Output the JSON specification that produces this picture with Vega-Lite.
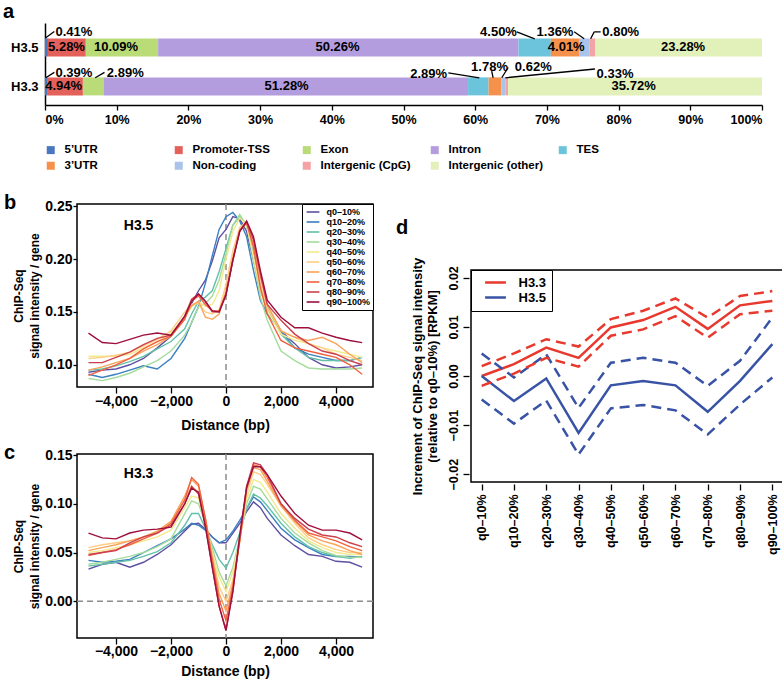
{
  "$schema": "https://vega.github.io/schema/vega-lite/v6.json",
  "background": "white",
  "padding": {"left": 2, "top": 2, "right": 0, "bottom": 0},
  "config": {
    "font": "Liberation Sans",
    "view": {"stroke": "black", "strokeWidth": 1.5},
    "axis": {"labelFont": "Liberation Sans", "labelFontWeight": "bold", "labelColor": "black", "titleFont": "Liberation Sans", "titleFontWeight": "bold", "titleColor": "black", "tickColor": "black", "domainColor": "black", "grid": false, "tickWidth": 1.3, "domainWidth": 1.5},
    "legend": {"labelFont": "Liberation Sans", "labelFontWeight": "bold", "labelColor": "black"},
    "title": {"font": "Liberation Sans", "fontWeight": "bold", "fontSize": 20, "color": "black", "anchor": "start", "frame": "group", "baseline": "alphabetic"}
  },
  "spacing": 20,
  "resolve": {"scale": {"color": "independent"}, "legend": {"color": "independent"}},
  "vconcat": [
    {
      "spacing": 0,
      "resolve": {"scale": {"color": "independent"}, "legend": {"color": "independent"}},
      "hconcat": [
        {"width": 1, "height": 1, "view": {"stroke": null}, "data": {"values": []}, "mark": "point"},
        {
          "width": 717, "height": 82,
          "view": {"stroke": null},
          "title": {"text": "a", "dx": -42, "offset": 1},
          "layer": [
            {
              "data": {"values": [
                {"sample": "H3.5", "yrow": 2, "cat": "5’UTR", "v": 0.41, "o": 1},
                {"sample": "H3.5", "yrow": 2, "cat": "Promoter-TSS", "v": 5.28, "o": 2},
                {"sample": "H3.5", "yrow": 2, "cat": "Exon", "v": 10.09, "o": 3},
                {"sample": "H3.5", "yrow": 2, "cat": "Intron", "v": 50.26, "o": 4},
                {"sample": "H3.5", "yrow": 2, "cat": "TES", "v": 4.50, "o": 5},
                {"sample": "H3.5", "yrow": 2, "cat": "3’UTR", "v": 4.01, "o": 6},
                {"sample": "H3.5", "yrow": 2, "cat": "Non-coding", "v": 1.36, "o": 7},
                {"sample": "H3.5", "yrow": 2, "cat": "Intergenic (CpG)", "v": 0.80, "o": 8},
                {"sample": "H3.5", "yrow": 2, "cat": "Intergenic (other)", "v": 23.28, "o": 9},
                {"sample": "H3.3", "yrow": 1, "cat": "5’UTR", "v": 0.39, "o": 1},
                {"sample": "H3.3", "yrow": 1, "cat": "Promoter-TSS", "v": 4.94, "o": 2},
                {"sample": "H3.3", "yrow": 1, "cat": "Exon", "v": 2.89, "o": 3},
                {"sample": "H3.3", "yrow": 1, "cat": "Intron", "v": 51.28, "o": 4},
                {"sample": "H3.3", "yrow": 1, "cat": "TES", "v": 2.89, "o": 5},
                {"sample": "H3.3", "yrow": 1, "cat": "3’UTR", "v": 1.78, "o": 6},
                {"sample": "H3.3", "yrow": 1, "cat": "Non-coding", "v": 0.62, "o": 7},
                {"sample": "H3.3", "yrow": 1, "cat": "Intergenic (CpG)", "v": 0.33, "o": 8},
                {"sample": "H3.3", "yrow": 1, "cat": "Intergenic (other)", "v": 35.72, "o": 9}
              ]},
              "mark": {"type": "bar", "orient": "horizontal", "size": 18},
              "encoding": {
                "y": {"field": "yrow", "type": "quantitative", "scale": {"domain": [0.65, 2.5], "nice": false, "zero": false},
                      "axis": {"values": [1, 2], "labelExpr": "datum.value == 2 ? 'H3.5' : 'H3.3'", "title": null, "ticks": false, "labelFontSize": 13, "labelPadding": 7}},
                "x": {"field": "v", "type": "quantitative", "stack": "normalize", "scale": {"domain": [0, 1], "nice": false},
                      "axis": {"values": [0, 0.1, 0.2, 0.3, 0.4, 0.5, 0.6, 0.7, 0.8, 0.9, 1], "format": ".0%", "title": null, "tickSize": 5, "labelPadding": 3, "labelFontSize": 12.5}},
                "color": {"field": "cat", "type": "nominal",
                          "scale": {"domain": ["5’UTR", "Promoter-TSS", "Exon", "Intron", "TES", "3’UTR", "Non-coding", "Intergenic (CpG)", "Intergenic (other)"],
                                    "range": ["#4a78c0", "#e4605b", "#b9db78", "#b49ddf", "#6cc4dc", "#f5914a", "#a9c3ea", "#f3a2a6", "#e2f0b9"]},
                          "legend": {"orient": "bottom", "direction": "horizontal", "columns": 5, "title": null, "symbolType": "square", "symbolSize": 64, "symbolStrokeWidth": 0, "labelFontSize": 11.5, "labelOffset": 8, "gridAlign": "all", "columnPadding": 13, "rowPadding": 3, "offset": 18}},
                "order": {"field": "o", "type": "quantitative"}
              }
            },
            {
              "data": {"values": [
                {"t": "5.28%", "px": 0.030, "py": 2},
                {"t": "10.09%", "px": 0.099, "py": 2},
                {"t": "50.26%", "px": 0.408, "py": 2},
                {"t": "4.01%", "px": 0.727, "py": 2},
                {"t": "23.28%", "px": 0.890, "py": 2},
                {"t": "4.94%", "px": 0.026, "py": 1},
                {"t": "51.28%", "px": 0.337, "py": 1},
                {"t": "35.72%", "px": 0.821, "py": 1},
                {"t": "0.41%", "px": 0.0404, "py": 2.387},
                {"t": "4.50%", "px": 0.6325, "py": 2.387},
                {"t": "1.36%", "px": 0.7113, "py": 2.387},
                {"t": "0.80%", "px": 0.803, "py": 2.387},
                {"t": "0.39%", "px": 0.0404, "py": 1.34},
                {"t": "2.89%", "px": 0.112, "py": 1.34},
                {"t": "2.89%", "px": 0.535, "py": 1.327},
                {"t": "1.78%", "px": 0.62, "py": 1.507},
                {"t": "0.62%", "px": 0.681, "py": 1.507},
                {"t": "0.33%", "px": 0.795, "py": 1.327}
              ]},
              "mark": {"type": "text", "fontSize": 13, "fontWeight": "bold", "color": "black", "font": "Liberation Sans"},
              "encoding": {
                "x": {"field": "px", "type": "quantitative"},
                "y": {"field": "py", "type": "quantitative"},
                "text": {"field": "t"}
              }
            },
            {
              "data": {"values": [
                {"x1": 0.001, "x2": 0.013, "y1": 2.25, "y2": 2.41},
                {"x1": 0.658, "x2": 0.683, "y1": 2.403, "y2": 2.222},
                {"x1": 0.738, "x2": 0.752, "y1": 2.403, "y2": 2.222},
                {"x1": 0.761, "x2": 0.766, "y1": 2.222, "y2": 2.40},
                {"x1": 0.766, "x2": 0.775, "y1": 2.40, "y2": 2.403},
                {"x1": 0.001, "x2": 0.013, "y1": 1.221, "y2": 1.36},
                {"x1": 0.070, "x2": 0.083, "y1": 1.221, "y2": 1.36},
                {"x1": 0.5625, "x2": 0.6057, "y1": 1.349, "y2": 1.221},
                {"x1": 0.623, "x2": 0.625, "y1": 1.394, "y2": 1.221},
                {"x1": 0.646, "x2": 0.637, "y1": 1.485, "y2": 1.221},
                {"x1": 0.767, "x2": 0.642, "y1": 1.446, "y2": 1.221}
              ]},
              "mark": {"type": "rule", "strokeWidth": 1.3, "color": "black"},
              "encoding": {
                "x": {"field": "x1", "type": "quantitative"},
                "x2": {"field": "x2"},
                "y": {"field": "y1", "type": "quantitative"},
                "y2": {"field": "y2"}
              }
            }
          ]
        }
      ]
    },
    {
      "spacing": 0,
      "resolve": {"scale": {"color": "independent"}, "legend": {"color": "independent"}},
      "hconcat": [
        {"width": 1, "height": 1, "view": {"stroke": null}, "data": {"values": []}, "mark": "point"},
        {
          "spacing": 20,
          "resolve": {"scale": {"color": "independent"}, "legend": {"color": "independent"}},
          "hconcat": [
            {
              "spacing": 9,
              "resolve": {"scale": {"color": "independent"}, "legend": {"color": "independent"}},
              "vconcat": [
                {
                  "width": 296, "height": 183,
                  "title": {"text": "b", "dx": -73, "offset": -14},
                  "layer": [
                    {
                      "data": {"values": [{"z": 0}]},
                      "mark": {"type": "rule", "strokeDash": [6, 4], "color": "#8c8c8c", "strokeWidth": 1.5},
                      "encoding": {"x": {"field": "z", "type": "quantitative"}}
                    },
                    {
                      "data": {"values": [
                        {"x": -5000, "q0–10%": 0.093, "q10–20%": 0.091, "q20–30%": 0.095, "q30–40%": 0.087, "q40–50%": 0.108, "q50–60%": 0.106, "q60–70%": 0.095, "q70–80%": 0.090, "q80–90%": 0.102, "q90–100%": 0.130},
                        {"x": -4500, "q0–10%": 0.095, "q10–20%": 0.088, "q20–30%": 0.096, "q30–40%": 0.085, "q40–50%": 0.108, "q50–60%": 0.107, "q60–70%": 0.098, "q70–80%": 0.095, "q80–90%": 0.102, "q90–100%": 0.121},
                        {"x": -4000, "q0–10%": 0.096, "q10–20%": 0.091, "q20–30%": 0.099, "q30–40%": 0.088, "q40–50%": 0.108, "q50–60%": 0.109, "q60–70%": 0.102, "q70–80%": 0.100, "q80–90%": 0.107, "q90–100%": 0.120},
                        {"x": -3500, "q0–10%": 0.100, "q10–20%": 0.095, "q20–30%": 0.103, "q30–40%": 0.092, "q40–50%": 0.110, "q50–60%": 0.112, "q60–70%": 0.106, "q70–80%": 0.106, "q80–90%": 0.112, "q90–100%": 0.124},
                        {"x": -3000, "q0–10%": 0.106, "q10–20%": 0.099, "q20–30%": 0.108, "q30–40%": 0.098, "q40–50%": 0.116, "q50–60%": 0.118, "q60–70%": 0.113, "q70–80%": 0.115, "q80–90%": 0.119, "q90–100%": 0.128},
                        {"x": -2500, "q0–10%": 0.116, "q10–20%": 0.096, "q20–30%": 0.115, "q30–40%": 0.104, "q40–50%": 0.122, "q50–60%": 0.124, "q60–70%": 0.119, "q70–80%": 0.122, "q80–90%": 0.125, "q90–100%": 0.130},
                        {"x": -2000, "q0–10%": 0.127, "q10–20%": 0.106, "q20–30%": 0.122, "q30–40%": 0.113, "q40–50%": 0.130, "q50–60%": 0.132, "q60–70%": 0.127, "q70–80%": 0.127, "q80–90%": 0.128, "q90–100%": 0.128},
                        {"x": -1500, "q0–10%": 0.145, "q10–20%": 0.125, "q20–30%": 0.134, "q30–40%": 0.128, "q40–50%": 0.145, "q50–60%": 0.150, "q60–70%": 0.145, "q70–80%": 0.143, "q80–90%": 0.146, "q90–100%": 0.146},
                        {"x": -1250, "q0–10%": 0.158, "q10–20%": 0.140, "q20–30%": 0.148, "q30–40%": 0.140, "q40–50%": 0.155, "q50–60%": 0.157, "q60–70%": 0.156, "q70–80%": 0.160, "q80–90%": 0.162, "q90–100%": 0.160},
                        {"x": -1000, "q0–10%": 0.170, "q10–20%": 0.155, "q20–30%": 0.160, "q30–40%": 0.155, "q40–50%": 0.160, "q50–60%": 0.158, "q60–70%": 0.160, "q70–80%": 0.165, "q80–90%": 0.167, "q90–100%": 0.167},
                        {"x": -750, "q0–10%": 0.180, "q10–20%": 0.177, "q20–30%": 0.164, "q30–40%": 0.158, "q40–50%": 0.155, "q50–60%": 0.150, "q60–70%": 0.145, "q70–80%": 0.157, "q80–90%": 0.160, "q90–100%": 0.160},
                        {"x": -500, "q0–10%": 0.198, "q10–20%": 0.203, "q20–30%": 0.170, "q30–40%": 0.165, "q40–50%": 0.157, "q50–60%": 0.148, "q60–70%": 0.143, "q70–80%": 0.151, "q80–90%": 0.150, "q90–100%": 0.151},
                        {"x": -250, "q0–10%": 0.220, "q10–20%": 0.228, "q20–30%": 0.188, "q30–40%": 0.180, "q40–50%": 0.170, "q50–60%": 0.152, "q60–70%": 0.148, "q70–80%": 0.151, "q80–90%": 0.150, "q90–100%": 0.150},
                        {"x": 0, "q0–10%": 0.228, "q10–20%": 0.240, "q20–30%": 0.210, "q30–40%": 0.205, "q40–50%": 0.200, "q50–60%": 0.176, "q60–70%": 0.170, "q70–80%": 0.167, "q80–90%": 0.167, "q90–100%": 0.166},
                        {"x": 250, "q0–10%": 0.240, "q10–20%": 0.244, "q20–30%": 0.232, "q30–40%": 0.232, "q40–50%": 0.226, "q50–60%": 0.208, "q60–70%": 0.202, "q70–80%": 0.199, "q80–90%": 0.199, "q90–100%": 0.199},
                        {"x": 500, "q0–10%": 0.238, "q10–20%": 0.236, "q20–30%": 0.240, "q30–40%": 0.242, "q40–50%": 0.239, "q50–60%": 0.230, "q60–70%": 0.227, "q70–80%": 0.227, "q80–90%": 0.227, "q90–100%": 0.226},
                        {"x": 750, "q0–10%": 0.226, "q10–20%": 0.221, "q20–30%": 0.232, "q30–40%": 0.232, "q40–50%": 0.232, "q50–60%": 0.235, "q60–70%": 0.234, "q70–80%": 0.234, "q80–90%": 0.235, "q90–100%": 0.236},
                        {"x": 1000, "q0–10%": 0.199, "q10–20%": 0.189, "q20–30%": 0.205, "q30–40%": 0.199, "q40–50%": 0.202, "q50–60%": 0.211, "q60–70%": 0.214, "q70–80%": 0.211, "q80–90%": 0.218, "q90–100%": 0.221},
                        {"x": 1250, "q0–10%": 0.170, "q10–20%": 0.161, "q20–30%": 0.173, "q30–40%": 0.164, "q40–50%": 0.170, "q50–60%": 0.176, "q60–70%": 0.183, "q70–80%": 0.173, "q80–90%": 0.186, "q90–100%": 0.189},
                        {"x": 1500, "q0–10%": 0.154, "q10–20%": 0.148, "q20–30%": 0.154, "q30–40%": 0.142, "q40–50%": 0.151, "q50–60%": 0.154, "q60–70%": 0.157, "q70–80%": 0.148, "q80–90%": 0.157, "q90–100%": 0.161},
                        {"x": 2000, "q0–10%": 0.132, "q10–20%": 0.132, "q20–30%": 0.129, "q30–40%": 0.113, "q40–50%": 0.129, "q50–60%": 0.132, "q60–70%": 0.132, "q70–80%": 0.123, "q80–90%": 0.142, "q90–100%": 0.145},
                        {"x": 2500, "q0–10%": 0.120, "q10–20%": 0.116, "q20–30%": 0.116, "q30–40%": 0.104, "q40–50%": 0.123, "q50–60%": 0.126, "q60–70%": 0.126, "q70–80%": 0.116, "q80–90%": 0.129, "q90–100%": 0.135},
                        {"x": 3000, "q0–10%": 0.107, "q10–20%": 0.110, "q20–30%": 0.107, "q30–40%": 0.097, "q40–50%": 0.120, "q50–60%": 0.120, "q60–70%": 0.123, "q70–80%": 0.113, "q80–90%": 0.120, "q90–100%": 0.135},
                        {"x": 3500, "q0–10%": 0.100, "q10–20%": 0.107, "q20–30%": 0.104, "q30–40%": 0.096, "q40–50%": 0.116, "q50–60%": 0.116, "q60–70%": 0.126, "q70–80%": 0.110, "q80–90%": 0.113, "q90–100%": 0.130},
                        {"x": 4000, "q0–10%": 0.097, "q10–20%": 0.104, "q20–30%": 0.104, "q30–40%": 0.096, "q40–50%": 0.113, "q50–60%": 0.110, "q60–70%": 0.120, "q70–80%": 0.107, "q80–90%": 0.110, "q90–100%": 0.126},
                        {"x": 4500, "q0–10%": 0.098, "q10–20%": 0.104, "q20–30%": 0.104, "q30–40%": 0.096, "q40–50%": 0.110, "q50–60%": 0.107, "q60–70%": 0.110, "q70–80%": 0.100, "q80–90%": 0.104, "q90–100%": 0.123},
                        {"x": 4950, "q0–10%": 0.100, "q10–20%": 0.107, "q20–30%": 0.107, "q30–40%": 0.097, "q40–50%": 0.107, "q50–60%": 0.104, "q60–70%": 0.102, "q70–80%": 0.091, "q80–90%": 0.100, "q90–100%": 0.121}
                      ]},
                      "transform": [{"fold": ["q0–10%", "q10–20%", "q20–30%", "q30–40%", "q40–50%", "q50–60%", "q60–70%", "q70–80%", "q80–90%", "q90–100%"], "as": ["series", "val"]}],
                      "mark": {"type": "line", "strokeWidth": 1.4},
                      "encoding": {
                        "x": {"field": "x", "type": "quantitative", "scale": {"domain": [-5418, 5345], "nice": false, "zero": false},
                              "axis": {"values": [-4000, -2000, 0, 2000, 4000], "format": ",.0f", "title": "Distance (bp)", "domain": false, "offset": 0, "tickSize": 6, "labelPadding": 1, "titlePadding": 10, "labelFontSize": 14, "titleFontSize": 14}},
                        "y": {"field": "val", "type": "quantitative", "scale": {"domain": [0.079, 0.252], "nice": false, "zero": false},
                              "axis": {"values": [0.10, 0.15, 0.20, 0.25], "format": ".2f", "title": ["ChIP-Seq", "signal intensity / gene"], "domain": false, "tickSize": 4, "labelPadding": 1, "titlePadding": 3, "labelFontSize": 14, "titleFontSize": 12, "titleLineHeight": 16}},
                        "color": {"field": "series", "type": "nominal",
                                  "scale": {"domain": ["q0–10%", "q10–20%", "q20–30%", "q30–40%", "q40–50%", "q50–60%", "q60–70%", "q70–80%", "q80–90%", "q90–100%"],
                                            "range": ["#5e4fa2", "#3a7fbf", "#62c0a8", "#a3dc9c", "#f3e98e", "#fdcf86", "#f9a35a", "#f2613f", "#cc3f4e", "#9e0f3c"]},
                                  "legend": {"orient": "top-right", "offset": 0, "title": null, "strokeColor": "black", "fillColor": "white", "padding": 3, "symbolOffset": 3, "symbolType": "M-1.6,0L1.6,0", "symbolSize": 64, "symbolStrokeWidth": 1.6, "labelFontSize": 9, "labelOffset": 8.4, "rowPadding": 0}},
                        "strokeWidth": {"condition": {"test": "datum.series === 'q90–100%'", "value": 2.2}, "value": 1.4}
                      }
                    },
                    {
                      "data": {"values": [{"lab": "H3.5", "px": -3180, "py": 0.2313}]},
                      "mark": {"type": "text", "fontSize": 14, "fontWeight": "bold", "color": "black", "font": "Liberation Sans"},
                      "encoding": {"x": {"field": "px", "type": "quantitative"}, "y": {"field": "py", "type": "quantitative"}, "text": {"field": "lab"}}
                    }
                  ]
                },
                {
                  "width": 296, "height": 184,
                  "title": {"text": "c", "dx": -73, "offset": -15},
                  "layer": [
                    {
                      "data": {"values": [{"z": 0}]},
                      "mark": {"type": "rule", "strokeDash": [6, 4], "color": "#8c8c8c", "strokeWidth": 1.5},
                      "encoding": {"x": {"field": "z", "type": "quantitative"}}
                    },
                    {
                      "data": {"values": [{"w": 0}]},
                      "mark": {"type": "rule", "strokeDash": [6, 4], "color": "#8c8c8c", "strokeWidth": 1.5},
                      "encoding": {"y": {"field": "w", "type": "quantitative"}}
                    },
                    {
                      "data": {"values": [
                        {"x": -5000, "q0–10%": 0.033, "q10–20%": 0.042, "q20–30%": 0.036, "q30–40%": 0.038, "q40–50%": 0.050, "q50–60%": 0.055, "q60–70%": 0.052, "q70–80%": 0.047, "q80–90%": 0.048, "q90–100%": 0.070},
                        {"x": -4500, "q0–10%": 0.038, "q10–20%": 0.040, "q20–30%": 0.038, "q30–40%": 0.040, "q40–50%": 0.052, "q50–60%": 0.058, "q60–70%": 0.055, "q70–80%": 0.050, "q80–90%": 0.050, "q90–100%": 0.065},
                        {"x": -4000, "q0–10%": 0.040, "q10–20%": 0.041, "q20–30%": 0.040, "q30–40%": 0.043, "q40–50%": 0.055, "q50–60%": 0.060, "q60–70%": 0.058, "q70–80%": 0.053, "q80–90%": 0.052, "q90–100%": 0.064},
                        {"x": -3500, "q0–10%": 0.035, "q10–20%": 0.043, "q20–30%": 0.042, "q30–40%": 0.046, "q40–50%": 0.058, "q50–60%": 0.062, "q60–70%": 0.062, "q70–80%": 0.058, "q80–90%": 0.060, "q90–100%": 0.070},
                        {"x": -3000, "q0–10%": 0.040, "q10–20%": 0.050, "q20–30%": 0.046, "q30–40%": 0.050, "q40–50%": 0.062, "q50–60%": 0.066, "q60–70%": 0.066, "q70–80%": 0.064, "q80–90%": 0.066, "q90–100%": 0.073},
                        {"x": -2500, "q0–10%": 0.048, "q10–20%": 0.057, "q20–30%": 0.051, "q30–40%": 0.056, "q40–50%": 0.066, "q50–60%": 0.071, "q60–70%": 0.072, "q70–80%": 0.070, "q80–90%": 0.070, "q90–100%": 0.074},
                        {"x": -2000, "q0–10%": 0.058, "q10–20%": 0.064, "q20–30%": 0.060, "q30–40%": 0.064, "q40–50%": 0.073, "q50–60%": 0.080, "q60–70%": 0.082, "q70–80%": 0.080, "q80–90%": 0.078, "q90–100%": 0.076},
                        {"x": -1500, "q0–10%": 0.072, "q10–20%": 0.074, "q20–30%": 0.078, "q30–40%": 0.090, "q40–50%": 0.096, "q50–60%": 0.105, "q60–70%": 0.108, "q70–80%": 0.104, "q80–90%": 0.100, "q90–100%": 0.100},
                        {"x": -1250, "q0–10%": 0.079, "q10–20%": 0.080, "q20–30%": 0.090, "q30–40%": 0.103, "q40–50%": 0.108, "q50–60%": 0.118, "q60–70%": 0.125, "q70–80%": 0.127, "q80–90%": 0.118, "q90–100%": 0.116},
                        {"x": -1000, "q0–10%": 0.080, "q10–20%": 0.078, "q20–30%": 0.090, "q30–40%": 0.100, "q40–50%": 0.106, "q50–60%": 0.112, "q60–70%": 0.118, "q70–80%": 0.120, "q80–90%": 0.110, "q90–100%": 0.112},
                        {"x": -750, "q0–10%": 0.074, "q10–20%": 0.073, "q20–30%": 0.075, "q30–40%": 0.080, "q40–50%": 0.080, "q50–60%": 0.085, "q60–70%": 0.085, "q70–80%": 0.085, "q80–90%": 0.078, "q90–100%": 0.076},
                        {"x": -500, "q0–10%": 0.066, "q10–20%": 0.066, "q20–30%": 0.058, "q30–40%": 0.055, "q40–50%": 0.050, "q50–60%": 0.048, "q60–70%": 0.045, "q70–80%": 0.042, "q80–90%": 0.035, "q90–100%": 0.035},
                        {"x": -250, "q0–10%": 0.060, "q10–20%": 0.060, "q20–30%": 0.043, "q30–40%": 0.030, "q40–50%": 0.025, "q50–60%": 0.015, "q60–70%": 0.008, "q70–80%": 0.002, "q80–90%": -0.005, "q90–100%": -0.005},
                        {"x": 0, "q0–10%": 0.060, "q10–20%": 0.063, "q20–30%": 0.034, "q30–40%": 0.016, "q40–50%": 0.010, "q50–60%": 0.000, "q60–70%": -0.010, "q70–80%": -0.020, "q80–90%": -0.030, "q90–100%": -0.030},
                        {"x": 250, "q0–10%": 0.070, "q10–20%": 0.072, "q20–30%": 0.050, "q30–40%": 0.035, "q40–50%": 0.030, "q50–60%": 0.022, "q60–70%": 0.018, "q70–80%": 0.015, "q80–90%": 0.010, "q90–100%": 0.010},
                        {"x": 500, "q0–10%": 0.080, "q10–20%": 0.083, "q20–30%": 0.070, "q30–40%": 0.065, "q40–50%": 0.063, "q50–60%": 0.062, "q60–70%": 0.062, "q70–80%": 0.062, "q80–90%": 0.065, "q90–100%": 0.068},
                        {"x": 750, "q0–10%": 0.092, "q10–20%": 0.095, "q20–30%": 0.095, "q30–40%": 0.100, "q40–50%": 0.105, "q50–60%": 0.110, "q60–70%": 0.115, "q70–80%": 0.115, "q80–90%": 0.118, "q90–100%": 0.117},
                        {"x": 1000, "q0–10%": 0.102, "q10–20%": 0.107, "q20–30%": 0.110, "q30–40%": 0.118, "q40–50%": 0.125, "q50–60%": 0.133, "q60–70%": 0.137, "q70–80%": 0.140, "q80–90%": 0.142, "q90–100%": 0.138},
                        {"x": 1250, "q0–10%": 0.096, "q10–20%": 0.102, "q20–30%": 0.106, "q30–40%": 0.115, "q40–50%": 0.122, "q50–60%": 0.130, "q60–70%": 0.135, "q70–80%": 0.138, "q80–90%": 0.140, "q90–100%": 0.138},
                        {"x": 1500, "q0–10%": 0.085, "q10–20%": 0.093, "q20–30%": 0.098, "q30–40%": 0.105, "q40–50%": 0.112, "q50–60%": 0.120, "q60–70%": 0.123, "q70–80%": 0.127, "q80–90%": 0.130, "q90–100%": 0.130},
                        {"x": 2000, "q0–10%": 0.068, "q10–20%": 0.075, "q20–30%": 0.080, "q30–40%": 0.085, "q40–50%": 0.090, "q50–60%": 0.098, "q60–70%": 0.098, "q70–80%": 0.100, "q80–90%": 0.100, "q90–100%": 0.108},
                        {"x": 2500, "q0–10%": 0.057, "q10–20%": 0.063, "q20–30%": 0.066, "q30–40%": 0.070, "q40–50%": 0.075, "q50–60%": 0.080, "q60–70%": 0.082, "q70–80%": 0.083, "q80–90%": 0.085, "q90–100%": 0.090},
                        {"x": 3000, "q0–10%": 0.048, "q10–20%": 0.055, "q20–30%": 0.056, "q30–40%": 0.060, "q40–50%": 0.062, "q50–60%": 0.065, "q60–70%": 0.068, "q70–80%": 0.070, "q80–90%": 0.074, "q90–100%": 0.078},
                        {"x": 3500, "q0–10%": 0.046, "q10–20%": 0.048, "q20–30%": 0.050, "q30–40%": 0.052, "q40–50%": 0.055, "q50–60%": 0.058, "q60–70%": 0.062, "q70–80%": 0.066, "q80–90%": 0.068, "q90–100%": 0.073},
                        {"x": 4000, "q0–10%": 0.041, "q10–20%": 0.046, "q20–30%": 0.046, "q30–40%": 0.047, "q40–50%": 0.050, "q50–60%": 0.053, "q60–70%": 0.058, "q70–80%": 0.062, "q80–90%": 0.066, "q90–100%": 0.073},
                        {"x": 4500, "q0–10%": 0.040, "q10–20%": 0.046, "q20–30%": 0.044, "q30–40%": 0.045, "q40–50%": 0.048, "q50–60%": 0.050, "q60–70%": 0.052, "q70–80%": 0.056, "q80–90%": 0.060, "q90–100%": 0.070},
                        {"x": 4950, "q0–10%": 0.035, "q10–20%": 0.045, "q20–30%": 0.046, "q30–40%": 0.045, "q40–50%": 0.048, "q50–60%": 0.050, "q60–70%": 0.048, "q70–80%": 0.052, "q80–90%": 0.056, "q90–100%": 0.063}
                      ]},
                      "transform": [{"fold": ["q0–10%", "q10–20%", "q20–30%", "q30–40%", "q40–50%", "q50–60%", "q60–70%", "q70–80%", "q80–90%", "q90–100%"], "as": ["series", "val"]}],
                      "mark": {"type": "line", "strokeWidth": 1.4},
                      "encoding": {
                        "x": {"field": "x", "type": "quantitative", "scale": {"domain": [-5418, 5345], "nice": false, "zero": false},
                              "axis": {"values": [-4000, -2000, 0, 2000, 4000], "format": ",.0f", "title": "Distance (bp)", "domain": false, "offset": 0, "tickSize": 6, "labelPadding": 0, "titlePadding": 6, "labelFontSize": 14, "titleFontSize": 14}},
                        "y": {"field": "val", "type": "quantitative", "scale": {"domain": [-0.0377, 0.1511], "nice": false, "zero": false},
                              "axis": {"values": [0, 0.05, 0.10, 0.15], "format": ".2f", "title": ["ChIP-Seq", "signal intensity / gene"], "domain": false, "tickSize": 4, "labelPadding": 1, "titlePadding": 3, "labelFontSize": 14, "titleFontSize": 12, "titleLineHeight": 16}},
                        "color": {"field": "series", "type": "nominal",
                                  "scale": {"domain": ["q0–10%", "q10–20%", "q20–30%", "q30–40%", "q40–50%", "q50–60%", "q60–70%", "q70–80%", "q80–90%", "q90–100%"],
                                            "range": ["#5e4fa2", "#3a7fbf", "#62c0a8", "#a3dc9c", "#f3e98e", "#fdcf86", "#f9a35a", "#f2613f", "#cc3f4e", "#9e0f3c"]},
                                  "legend": null},
                        "strokeWidth": {"condition": {"test": "datum.series === 'q90–100%'", "value": 2.2}, "value": 1.4}
                      }
                    },
                    {
                      "data": {"values": [{"lab": "H3.3", "px": -3180, "py": 0.131}]},
                      "mark": {"type": "text", "fontSize": 14, "fontWeight": "bold", "color": "black", "font": "Liberation Sans"},
                      "encoding": {"x": {"field": "px", "type": "quantitative"}, "y": {"field": "py", "type": "quantitative"}, "text": {"field": "lab"}}
                    }
                  ]
                }
              ]
            },
            {
              "spacing": 12,
              "resolve": {"scale": {"color": "independent"}, "legend": {"color": "independent"}},
              "vconcat": [
                {"width": 1, "height": 1, "view": {"stroke": null}, "data": {"values": []}, "mark": "point"},
                {
                  "width": 312, "height": 212,
                  "title": {"text": "d", "dx": -75, "offset": 19},
                  "data": {"values": [
                    {"q": "q0–10%", "s": "H3.3", "m": 0.0, "hi": 0.0020, "lo": -0.0020},
                    {"q": "q10–20%", "s": "H3.3", "m": 0.0024, "hi": 0.0046, "lo": 0.0005},
                    {"q": "q20–30%", "s": "H3.3", "m": 0.0058, "hi": 0.0075, "lo": 0.0037},
                    {"q": "q30–40%", "s": "H3.3", "m": 0.0037, "hi": 0.0060, "lo": 0.0019},
                    {"q": "q40–50%", "s": "H3.3", "m": 0.0099, "hi": 0.0116, "lo": 0.0082},
                    {"q": "q50–60%", "s": "H3.3", "m": 0.0114, "hi": 0.0133, "lo": 0.0095},
                    {"q": "q60–70%", "s": "H3.3", "m": 0.0141, "hi": 0.0158, "lo": 0.0122},
                    {"q": "q70–80%", "s": "H3.3", "m": 0.0096, "hi": 0.0119, "lo": 0.0078},
                    {"q": "q80–90%", "s": "H3.3", "m": 0.0144, "hi": 0.0163, "lo": 0.0126},
                    {"q": "q90–100%", "s": "H3.3", "m": 0.0153, "hi": 0.0173, "lo": 0.0133},
                    {"q": "q0–10%", "s": "H3.5", "m": 0.0, "hi": 0.0046, "lo": -0.0048},
                    {"q": "q10–20%", "s": "H3.5", "m": -0.0051, "hi": -0.0003, "lo": -0.0097},
                    {"q": "q20–30%", "s": "H3.5", "m": -0.0005, "hi": 0.0044, "lo": -0.0050},
                    {"q": "q30–40%", "s": "H3.5", "m": -0.0116, "hi": -0.0065, "lo": -0.0160},
                    {"q": "q40–50%", "s": "H3.5", "m": -0.0019, "hi": 0.0027, "lo": -0.0066},
                    {"q": "q50–60%", "s": "H3.5", "m": -0.0010, "hi": 0.0037, "lo": -0.0059},
                    {"q": "q60–70%", "s": "H3.5", "m": -0.0019, "hi": 0.0027, "lo": -0.0070},
                    {"q": "q70–80%", "s": "H3.5", "m": -0.0073, "hi": -0.0020, "lo": -0.0119},
                    {"q": "q80–90%", "s": "H3.5", "m": -0.0010, "hi": 0.0031, "lo": -0.0058},
                    {"q": "q90–100%", "s": "H3.5", "m": 0.0065, "hi": 0.0119, "lo": -0.0003}
                  ]},
                  "layer": [
                    {
                      "mark": {"type": "line", "strokeWidth": 2.5},
                      "encoding": {
                        "x": {"field": "q", "type": "ordinal", "scale": {"type": "point", "padding": 0.33, "domain": ["q0–10%", "q10–20%", "q20–30%", "q30–40%", "q40–50%", "q50–60%", "q60–70%", "q70–80%", "q80–90%", "q90–100%"]},
                              "axis": {"title": null, "labelAngle": -90, "labelAlign": "right", "labelBaseline": "middle", "tickSize": 6, "offset": 2, "domain": false, "labelPadding": 4, "labelFontSize": 12.5}},
                        "y": {"field": "m", "type": "quantitative", "scale": {"domain": [-0.0216, 0.0216], "nice": false, "zero": false},
                              "axis": {"values": [-0.02, -0.01, 0, 0.01, 0.02], "format": ".2f", "labelAngle": -90, "labelAlign": "center", "labelBaseline": "bottom", "tickSize": 6, "offset": 2, "domain": false, "labelPadding": 3, "labelFontSize": 12.5,
                                       "title": ["Increment of ChIP-Seq signal intensity", "(relative to q0–10%) [RPKM]"], "titlePadding": 8, "titleFontSize": 13, "titleLineHeight": 15}},
                        "color": {"field": "s", "type": "nominal", "scale": {"domain": ["H3.3", "H3.5"], "range": ["#e8392e", "#3853a5"]},
                                  "legend": {"orient": "top-left", "offset": 0, "title": null, "strokeColor": "black", "fillColor": "white", "padding": 6, "symbolOffset": 12, "symbolType": "M-2.6,0L2.6,0", "symbolSize": 64, "symbolStrokeWidth": 2.5, "labelFontSize": 13, "labelOffset": 16.5, "rowPadding": 1}}
                      }
                    },
                    {
                      "mark": {"type": "line", "strokeWidth": 2.5, "strokeDash": [10, 6]},
                      "encoding": {
                        "x": {"field": "q", "type": "ordinal"},
                        "y": {"field": "hi", "type": "quantitative"},
                        "color": {"field": "s", "type": "nominal", "legend": null}
                      }
                    },
                    {
                      "mark": {"type": "line", "strokeWidth": 2.5, "strokeDash": [10, 6]},
                      "encoding": {
                        "x": {"field": "q", "type": "ordinal"},
                        "y": {"field": "lo", "type": "quantitative"},
                        "color": {"field": "s", "type": "nominal", "legend": null}
                      }
                    }
                  ]
                }
              ]
            }
          ]
        }
      ]
    }
  ]
}
